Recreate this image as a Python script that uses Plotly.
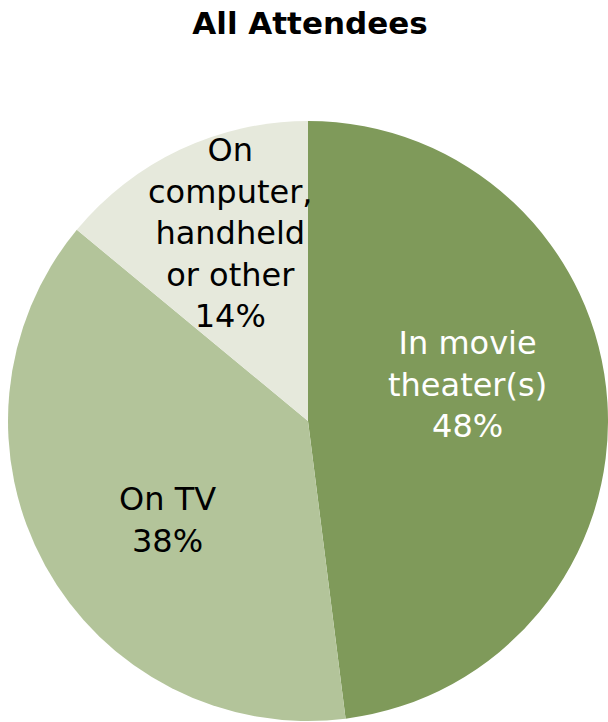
import plotly.graph_objects as go

# Where attendees watched movies (share of all attendees, %)
labels = ["In movie<br>theater(s)", "On TV", "On<br>computer,<br>handheld<br>or other"]
shares = [48, 38, 14]
slice_colors = ["#7F9A5A", "#B3C49A", "#E6E9DC"]
text_colors = ["#FFFFFF", "#000000", "#000000"]
# label anchor points in pixels (x from left, y from top)
label_px = [(467, 384), (167, 520), (230, 233)]

W, H = 608, 722
cx, cy, r = 308, 421, 300

fig = go.Figure(
    go.Pie(
        labels=[l.replace("<br>", " ") for l in labels],
        values=shares,
        sort=False,
        direction="clockwise",
        rotation=0,
        textinfo="none",
        marker=dict(colors=slice_colors, line=dict(width=0)),
        domain=dict(x=[(cx - r) / W, (cx + r) / W],
                    y=[(H - cy - r) / H, (H - cy + r) / H]),
        showlegend=False,
    )
)

for lab, val, col, (px, py) in zip(labels, shares, text_colors, label_px):
    fig.add_annotation(
        text=f"{lab}<br>{val}%",
        x=px / W, y=1 - py / H, xref="paper", yref="paper",
        xanchor="center", yanchor="middle", showarrow=False,
        font=dict(family="DejaVu Sans", size=32, color=col),
    )

fig.update_layout(
    width=W, height=H,
    margin=dict(l=0, r=0, t=0, b=0),
    paper_bgcolor="white", plot_bgcolor="white",
    title=dict(text="<b>All Attendees</b>", x=310 / W, y=1 - 23 / H,
               xref="paper", yref="container",
               xanchor="center", yanchor="middle",
               font=dict(family="DejaVu Sans", size=31, color="black")),
)

fig.write_html("out.html")
